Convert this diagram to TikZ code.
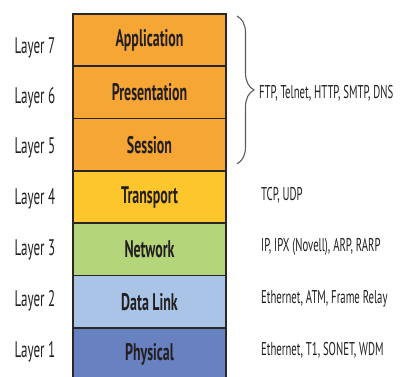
\documentclass[tikz,border=0pt]{standalone}
\usepackage{fontspec}
\setmainfont{PT Sans}[FakeStretch=0.58]
\usepackage{tikz}
\usetikzlibrary{positioning,decorations.pathreplacing}
\definecolor{osiorange}{RGB}{245,166,53}
\definecolor{osiyellow}{RGB}{253,198,45}
\definecolor{osigreen}{RGB}{180,213,122}
\definecolor{osisky}{RGB}{169,196,230}
\definecolor{osiblue}{RGB}{104,129,193}
\definecolor{osiline}{RGB}{40,38,38}
\definecolor{ositext}{RGB}{35,31,32}
\definecolor{osibrace}{RGB}{90,90,95}
\tikzset{
  lyr/.style={draw=osiline, line width=1.8pt, outer sep=0pt, inner sep=0pt,
              minimum width=153pt, minimum height=52.3pt,
              font=\fontsize{24}{27}\selectfont\bfseries, text=ositext},
  lnum/.style={font=\fontsize{22.5}{25}\selectfont, text=ositext},
  proto/.style={anchor=west, font=\fontsize{18.5}{21}\selectfont, text=ositext, inner sep=0pt},
  brc/.style={osibrace, line width=1.1pt,
              decorate, decoration={brace, amplitude=17pt}},
}
\begin{document}
\begin{tikzpicture}[x=1pt, y=-1pt]
  \useasboundingbox (0,0) rectangle (418,377);
  \clip (0,0) rectangle (418,377);
  % the seven layers, stacked
  \node[lyr, fill=osiorange] (app) at (149.5,40.15) {Application};
  \node[lyr, fill=osiorange, below=0pt of app] (pres) {Presentation};
  \node[lyr, fill=osiorange, below=0pt of pres] (sess) {Session};
  \node[lyr, fill=osiyellow, below=0pt of sess] (trans) {Transport};
  \node[lyr, fill=osigreen, below=0pt of trans] (net) {Network};
  \node[lyr, fill=osisky, below=0pt of net] (dlink) {Data Link};
  \node[lyr, fill=osiblue, below=0pt of dlink] (phys) {Physical};
  % layer numbers
  \node[lnum] (l7) at (35,48) {Layer 7};
  \node[lnum] (l6) at (35,98) {Layer 6};
  \node[lnum] (l5) at (35,148) {Layer 5};
  \node[lnum] (l4) at (35,199) {Layer 4};
  \node[lnum] (l3) at (35,250) {Layer 3};
  \node[lnum] (l2) at (35,301) {Layer 2};
  \node[lnum] (l1) at (35,352) {Layer 1};
  % upper layers share one brace
  \coordinate (btop) at ([xshift=11pt, yshift=-2pt]app.north east);
  \coordinate (bbot) at ([xshift=11pt, yshift=7pt]sess.south east);
  \draw[brc] (btop) -- (bbot);
  \node[proto] (pupper) at (259,93) {FTP, Telnet, HTTP, SMTP, DNS};
  % protocols per layer
  \node[proto] (p4) at (261,195) {TCP, UDP};
  \node[proto] (p3) at (261,247) {IP, IPX (Novell), ARP, RARP};
  \node[proto] (p2) at (261,299) {Ethernet, ATM, Frame Relay};
  \node[proto] (p1) at (261,350) {Ethernet, T1, SONET, WDM};
\end{tikzpicture}
\end{document}
